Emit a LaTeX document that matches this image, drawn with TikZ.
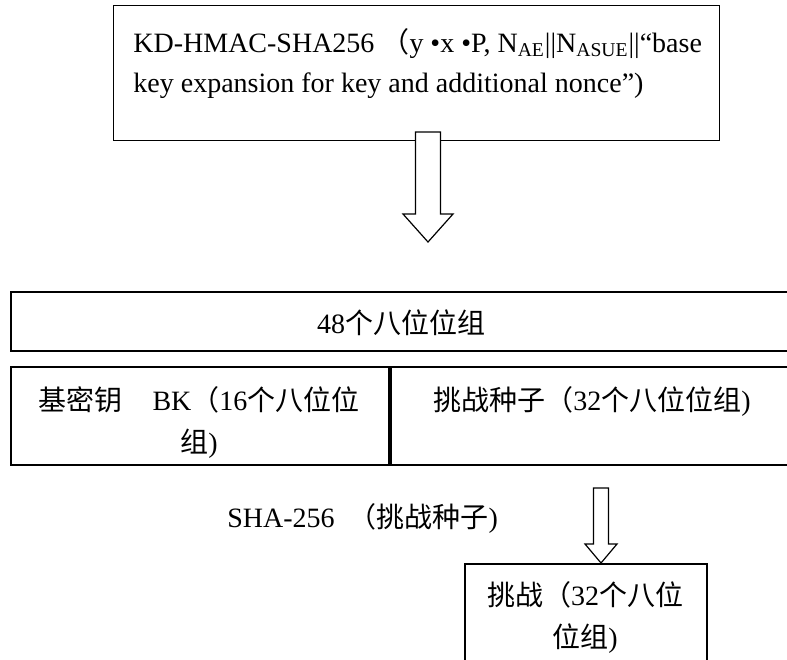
\documentclass[tikz,border=0pt]{standalone}
\usepackage{fontspec}
\setmainfont{Liberation Serif}
\newfontfamily\cjk{Noto Sans CJK SC}
\usepackage{tikz}
\usetikzlibrary{positioning}
\newcommand{\zh}[1]{{\cjk #1}}
\tikzset{
         field/.style={draw, line width=1pt, inner sep=0pt},
         txt/.style={inner sep=0pt, font=\fontsize{14}{20}\selectfont},
         hollow/.style={draw, fill=white, line width=0.6pt, line join=miter},
}

\begin{document}
\begin{tikzpicture}[x=0.5pt, y=-0.5pt]
    \useasboundingbox (0,0) rectangle (787,659);
    \clip (0,0) rectangle (787,659);

    % Schluesselableitung
    \node[field, line width=0.7pt, anchor=north west, minimum width=303pt, minimum height=67.5pt] (kdf) at (113,5) {};
    \node[txt, anchor=base west, align=left] (kdf_text) at (133,92) {KD-HMAC-SHA256 \zh{（}y •x •P, N\textsubscript{AE}||N\textsubscript{ASUE}||“base\\key expansion for key and additional nonce”)};

    % Ausgabe
    \node[field, anchor=north west, minimum width=393pt, minimum height=29.5pt] (octets) at (10,291) {};
    \node[txt, anchor=base] (octets_text) at (401,333) {48\zh{个八位位组}};
    \node[field, anchor=north west, minimum width=189pt, minimum height=49pt] (bk) at (10,366) {};
    \node[field, minimum width=204pt, minimum height=49pt, right=0cm of bk] (seed) {};
    \node[txt, anchor=base, align=center] (bk_text) at (199,452) {\zh{基密钥}\hspace{15pt}BK\zh{（}16\zh{个八位位}\\[1pt]\zh{组})};
    \node[txt, anchor=base] (seed_text) at (592,410) {\zh{挑战种子（}32\zh{个八位位组})};

    % Hash
    \node[txt, anchor=base west] (hash) at (227,527) {SHA-256\ \ \zh{（挑战种子})};
    \node[field, anchor=north west, minimum width=121pt, minimum height=60pt] (chal) at (464,563) {};
    \node[txt, anchor=base, align=center] (chal_text) at (585,647) {\zh{挑战（}32\zh{个八位}\\[1pt]\zh{位组})};

    % Pfeile
    \coordinate (tip1) at (428,242);
    \draw[hollow] (tip1) -- ++(25,-28) -- ++(-12.5,0) -- ++(0,-82) -- ++(-25,0) -- ++(0,82) -- ++(-12.5,0) -- cycle;
    \draw[hollow] ([xshift=7.5pt]chal.north) -- ++(16,-19) -- ++(-8.5,0) -- ++(0,-56) -- ++(-15,0) -- ++(0,56) -- ++(-8.5,0) -- cycle;

\end{tikzpicture}
\end{document}
